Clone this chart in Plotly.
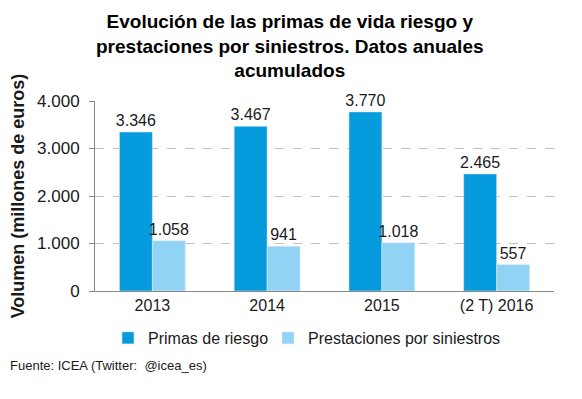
import plotly.graph_objects as go

categories = ["2013", "2014", "2015", "(2 T) 2016"]
primas = [3346, 3467, 3770, 2465]
prestaciones = [1058, 941, 1018, 557]
primas_labels = ["3.346", "3.467", "3.770", "2.465"]
prest_labels = ["1.058", "941", "1.018", "557"]

# the page body adds an 8px offset; layout numbers below are in figure coords
L, R, T, B = 87, 36, 93, 116
PW, PH = 582 - L - R, 399 - T - B

fig = go.Figure()
fig.add_bar(x=categories, y=primas, name="Primas de riesgo", marker_color="#069BDC",
            text=primas_labels, textposition="outside", cliponaxis=False, constraintext="none",
            textfont=dict(size=16, color="#1a1a1a"), legend="legend")
fig.add_bar(x=categories, y=prestaciones, name="Prestaciones por siniestros", marker_color="#91D3F5",
            text=prest_labels, textposition="outside", cliponaxis=False, constraintext="none",
            textfont=dict(size=16, color="#1a1a1a"), legend="legend2")

leg_common = dict(orientation="h", xanchor="left", y=-47 / PH, yanchor="middle",
                  font=dict(size=16), itemwidth=30, bgcolor="rgba(0,0,0,0)")
fig.update_layout(
    width=582, height=399,
    paper_bgcolor="white", plot_bgcolor="white",
    font=dict(family="Liberation Sans, Arial, sans-serif", color="#1a1a1a"),
    separators=",.",
    barmode="group", bargap=0.426, bargroupgap=0,
    margin=dict(l=L, r=R, t=T, b=B, autoexpand=False),
    legend=dict(x=(100 - L) / PW, **leg_common),
    legend2=dict(x=(260 - L) / PW, **leg_common),
    showlegend=True,
)
fig.add_annotation(text="<b>Evolución de las primas de vida riesgo y<br>prestaciones por siniestros. Datos anuales<br>acumulados</b>",
                   xref="paper", yref="paper", x=(282 - L) / PW, xanchor="center",
                   y=1 + (T - 1) / PH, yanchor="top", showarrow=False,
                   font=dict(size=19, color="#000"))
fig.update_yaxes(range=[0, 4000], tickvals=[0, 1000, 2000, 3000, 4000], tickformat=",d",
                 automargin=False,
                 showgrid=True, gridcolor="#BFBFBF", griddash="dash", gridwidth=1,
                 showline=True, linecolor="#888", linewidth=1, ticks="outside", ticklen=5, tickcolor="#888",
                 tickfont=dict(size=17), ticklabelstandoff=6,
                 title=dict(text="<b>Volumen (millones de euros)</b>", font=dict(size=18), standoff=14),
                 zeroline=False)
fig.update_xaxes(automargin=False, showline=True, linecolor="#888", linewidth=1,
                 tickfont=dict(size=16), ticks="")
fig.add_annotation(text="Fuente: ICEA (Twitter:  @icea_es)", xref="paper", yref="paper",
                   x=-L / PW, xanchor="left", y=-74 / PH, yanchor="middle", showarrow=False,
                   xshift=0, font=dict(size=13, color="#1a1a1a"))

fig.write_html("out.html")
